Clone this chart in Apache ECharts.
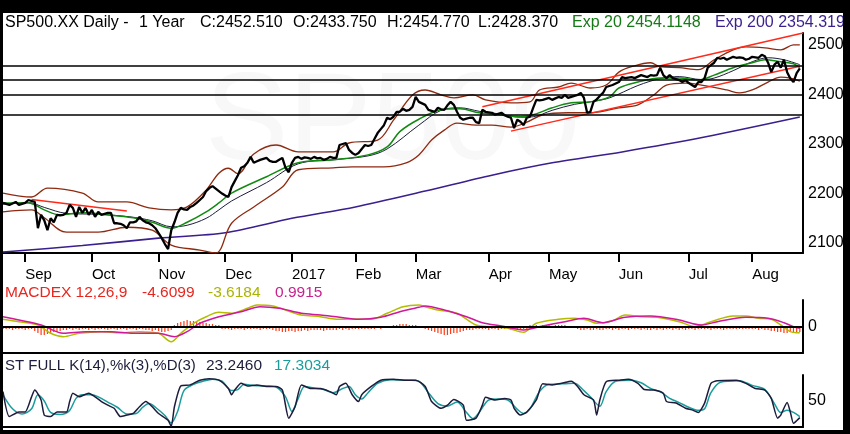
<!DOCTYPE html>
<html><head><meta charset="utf-8">
<script src="https://cdn.jsdelivr.net/npm/echarts@6/dist/echarts.min.js"></script>
<style>html,body{margin:0;padding:0;background:#000;}#c{width:850px;height:434px;}</style>
</head><body><div id="c"></div>
<script>
// ---- calendar (trading days) ----
const startYear = 2016, startMonth = 7, startDay = 23; // 23 Aug 2016
const dayCount = 253;
const holidays = ['2016-09-05','2016-11-24','2016-12-26','2017-01-02','2017-01-16','2017-02-20','2017-04-14','2017-05-29','2017-07-04'];
const monthLabels = ['2017','Feb','Mar','Apr','May','Jun','Jul','Aug','Sep','Oct','Nov','Dec'];

// ---- price (daily close) ----
const closeVals = [
2181,2179,2177,2180,2183,2177,2179,2181,2187,2185,2183,2130,2157,2146,2126,2150,2142,2157,2156,2157,
2161,2177,2171,2153,2173,2161,2171,2157,2167,2153,2163,2157,2159,2161,2161,2140,2140,2139,2136,2130,
2142,2142,2144,2153,2146,2142,2140,2136,2130,2120,2110,2098,2088,2126,2142,2161,2171,2168,2167,2173,
2176,2181,2187,2193,2205,2211,2215,2210,2205,2200,2196,2193,2213,2225,2237,2252,2255,2262,2274,2262,
2265,2268,2270,2272,2266,2264,2264,2268,2272,2252,2243,2262,2272,2274,2270,2273,2272,2270,2274,2271,
2272,2268,2270,2274,2272,2272,2298,2300,2302,2288,2282,2278,2282,2290,2298,2296,2298,2310,2322,2330,
2338,2353,2350,2355,2365,2365,2371,2367,2369,2375,2395,2385,2382,2379,2369,2367,2365,2373,2370,2369,
2378,2385,2379,2365,2353,2349,2351,2353,2353,2344,2342,2369,2365,2364,2363,2359,2361,2363,2358,2355,
2353,2332,2349,2345,2338,2353,2355,2373,2389,2388,2389,2391,2393,2389,2392,2395,2393,2399,2393,2395,
2397,2399,2403,2393,2363,2365,2385,2390,2397,2403,2415,2417,2419,2422,2425,2435,2433,2434,2435,2433,
2436,2439,2437,2435,2439,2438,2439,2454,2439,2433,2439,2433,2431,2429,2425,2429,2423,2419,2415,2425,
2425,2433,2454,2459,2464,2474,2472,2474,2470,2473,2476,2474,2475,2474,2470,2472,2476,2475,2474,2480,
2477,2464,2445,2460,2466,2454,2470,2445,2432,2425,2443,2452.51];

// ---- indicators ----
const emaDays = [0,8,13,18,25,33,41,47,53,58,64,68,72,83,93,104,115,121,125,131,138,144,150,156,163,167,173,179,185,191,194,200,207,213,219,224,230,236,240,245,249,251];
const emaVals = [2181,2181,2167,2157,2161,2157,2151,2142,2130,2142,2163,2181,2201,2234,2262,2268,2278,2294,2325,2350,2369,2371,2363,2359,2355,2359,2373,2383,2385,2395,2413,2425,2433,2433,2429,2439,2454,2464,2470,2466,2462,2454.11];
const smaDays = [0,8,13,20,30,40,47,53,58,64,68,72,83,93,104,115,121,131,138,144,150,156,163,167,173,180,185,191,200,207,213,220,224,230,236,241,246,251];
const smaVals = [2178,2182,2172,2160,2158,2153,2145,2133,2136,2150,2167,2185,2222,2260,2268,2276,2290,2338,2368,2373,2366,2361,2354,2355,2368,2380,2385,2393,2418,2432,2436,2430,2433,2448,2466,2474,2470,2460];
const upDays = [0,9,14,25,30,39,46,53,58,64,68,71,74,79,86,93,104,109,118,123,129,133,138,142,148,152,160,166,169,175,179,185,190,194,198,204,207,213,219,224,230,234,240,245,249,251];
const upVals = [2201,2193,2211,2201,2183,2183,2171,2167,2173,2207,2241,2251,2240,2280,2298,2284,2284,2302,2308,2348,2399,2409,2399,2393,2399,2389,2383,2385,2409,2415,2423,2413,2419,2445,2456,2464,2456,2454,2450,2470,2490,2496,2494,2490,2500,2500];
const loDays = [0,9,13,20,30,39,47,53,62,67,72,79,88,93,104,110,120,127,131,135,139,143,149,154,160,165,170,178,184,188,191,194,200,205,209,215,220,228,232,236,241,245,248,251];
const loVals = [2163,2167,2151,2122,2122,2132,2126,2096,2086,2080,2140,2173,2213,2248,2252,2254,2254,2262,2278,2308,2328,2342,2338,2338,2334,2344,2359,2363,2363,2365,2369,2373,2379,2399,2419,2423,2419,2409,2403,2409,2425,2435,2433,2427];
const e200Days = [0,25,49,70,91,111,133,154,173,195,221,251];
const e200Vals = [2082,2095,2110,2121,2150,2173,2205,2237,2262,2284,2314,2354.32];

// trend lines and horizontal levels
const trendA = {days:[9,39], vals:[2188,2165]};
const trendB = {days:[151,252], vals:[2375,2524]};
const trendC = {days:[160,251], vals:[2326,2457]};
const levels = [2458,2429,2400,2360];

// ---- MACD ----
const macdDays = [0,5,11,15,19,24,31,37,43,49,53,56,60,64,68,72,77,80,85,89,94,100,105,110,116,121,126,131,133,137,143,149,154,159,164,168,175,180,184,187,192,196,201,206,213,218,223,230,234,238,242,245,248,250,251];
const macdVals = [7.7,5.3,2,-6.3,-9.7,-6.3,-4.7,-5.7,-4.7,-6.3,-14.7,-6.3,3.7,10.3,14.7,13.7,18.7,22,21,17,12,10.3,7.7,8,7.7,13.7,20.3,22,20.3,17,13.7,2,0.3,-1.3,-5.3,3.7,7.7,8.7,7,3.7,6.3,12,10.3,9.7,5.3,0.3,5.3,11,11,8.7,7.7,2,-4.7,-5.7,-5.7];
const sigDays = [0,5,12,19,26,34,41,49,54,58,62,68,75,81,87,94,100,106,112,119,125,131,133,139,146,151,157,164,170,177,183,189,196,204,213,220,225,234,241,246,249,251];
const sigVals = [10.3,7,2,-6.3,-4.7,-4.7,-6.3,-6.3,-9.7,-4.7,3.7,10.3,15.3,20.3,18.7,13.7,12,9.7,7.7,9.7,15.3,19.7,21,17,10.3,4.3,1,-3,1,5.3,8.7,4.3,9.7,11,7,2,5.3,9.7,8.7,4.3,0.3,-1.3];
const histVals = [
-2,-2,-2,-3,-2,-2,-2,-3,-2,-2,
-4,-6,-8,-8,-7,-6,-5,-5,-4,-3,-3,
-2,-3,-2,-3,-2,-2,-3,-2,-3,-2,-2,-2,-3,-2,-2,-3,-2,-2,-3,-2,-2,-3,-2,-2,
-3,-3,-4,-3,-4,-5,-5,-4,-3,
2,4,5,6,7,6,6,5,5,4,4,3,3,2,2,
-2,-2,-2,-3,-2,-2,-2,-3,-2,-2,-2,-2,-3,-2,-2,-2,
-3,-4,-4,-5,-5,-4,-4,-5,-4,-4,-3,-4,-3,-3,-3,-3,-4,-3,-3,-3,-3,-2,-3,-2,-3,-2,
-2,-2,-2,-2,-2,-2,-2,-1,-2,-1,-1,-1,
2,2,3,3,3,2,2,2,1,1,
-2,-3,-4,-5,-6,-7,-8,-8,-7,-6,-6,-5,-4,-3,-3,-3,-2,-2,
-2,-2,-3,-2,-2,-3,-2,-2,-2,-3,-2,-2,-3,-2,-2,
2,2,2,1,2,2,2,1,2,2,2,2,1,1,1,
-2,-3,-3,-2,-3,-3,-2,-3,-3,-2,-2,-3,-2,-3,-2,-2,-3,-2,-2,
-2,-3,-2,-3,-3,-2,-3,-2,-3,-2,-2,-3,-2,-3,-2,-3,-2,-2,-3,-2,
-2,-2,-2,-3,-2,-2,-2,-3,-2,-2,-2,-2,-2,-2,-2,-2,
-2,-2,-3,-2,-3,-3,-4,-4,-5,-5,-6,-6,-5,-6,-6,-5];

// ---- Stochastic ----
const kDays = [0,2,5,7,9,10,12,13,15,17,20,21,22,24,27,29,31,33,35,37,39,41,43,45,47,49,52,53,54,56,59,62,65,68,71,72,73,75,77,80,83,86,88,90,92,94,97,100,103,105,106,108,110,112,113,116,119,123,127,130,133,135,138,140,142,145,146,149,151,152,155,158,160,161,163,165,168,170,173,176,179,181,183,186,187,188,190,194,197,200,202,205,208,209,212,215,217,219,221,223,225,231,234,237,240,242,244,245,247,248,249,250,251];
const kVals = [68,20,29,29,58,71,52,23,20,29,29,49,65,58,65,58,49,42,36,20,23,26,39,49,39,26,13,1,39,79,81,90,93,90,74,62,71,84,79,81,78,78,71,17,39,81,74,74,68,62,78,84,62,49,62,78,90,92,90,90,78,49,36,42,53,42,13,17,42,57,52,55,52,36,23,29,52,83,81,84,88,78,62,52,23,52,87,90,92,84,72,71,65,49,46,36,33,28,46,84,89,90,84,74,71,55,17,23,47,29,7,12,18];
const dDays = [0,3,6,9,11,13,15,18,21,23,25,28,30,33,36,39,42,44,46,48,51,53,55,57,60,63,66,69,72,74,76,79,83,86,89,91,93,95,98,101,104,107,109,111,113,115,118,122,128,131,134,137,140,143,146,148,150,153,156,159,162,164,166,169,172,176,180,183,185,188,190,193,198,201,204,207,210,213,216,219,221,223,226,232,236,240,243,245,247,249,251];
const dVals = [62,35,25,35,62,50,28,24,32,55,62,62,58,48,38,25,26,38,45,38,22,8,30,70,82,88,92,88,70,72,82,80,79,77,58,30,55,78,75,72,66,74,78,62,54,66,84,91,90,88,66,45,40,48,28,16,28,52,54,52,34,26,35,68,82,83,84,70,58,40,68,88,90,85,74,68,55,47,38,32,35,66,86,89,80,72,45,28,32,28,20];

// ---- build ----
const categories = [];
let t = Date.UTC(startYear, startMonth, startDay);
while (categories.length < dayCount) {
  const dt = new Date(t);
  const wd = dt.getUTCDay();
  const s = dt.toISOString().slice(0, 10);
  if (wd !== 0 && wd !== 6 && holidays.indexOf(s) < 0) categories.push(s);
  t += 86400000;
}
const monthStart = {};
for (let i = 1; i < categories.length; i++) {
  if (categories[i].slice(5, 7) !== categories[i - 1].slice(5, 7)) {
    monthStart[i] = monthLabels[+categories[i].slice(5, 7) - 1];
  }
}
const zip = (d, v) => d.map((x, i) => [x, v[i]]);
const FONT = '"Liberation Sans", Arial, sans-serif';

const BROWN = '#8e2a10', GREEN = '#128a12', DARK = '#1c1c3c', INDIGO = '#3b1f8e', RED = '#ff2a1a';
const YEL = '#b4bc00', MAG = '#d0189a', TEAL = '#1a9c9c';

function lineS(name, data, color, width, xi, yi, extra) {
  return Object.assign({
    name, type: 'line', data, xAxisIndex: xi, yAxisIndex: yi, showSymbol: false, symbol: 'none',
    lineStyle: { color, width }, itemStyle: { color }, silent: true, animation: false
  }, extra || {});
}

const chart = echarts.init(document.getElementById('c'), null, { renderer: 'canvas' });
const hiddenAxisParts = { axisTick: { show: false }, axisLabel: { show: false }, splitLine: { show: false } };

chart.setOption({
  backgroundColor: '#ffffff',
  animation: false,
  grid: [
    { left: 3, right: 47, top: 33, height: 220 },
    { left: 3, right: 47, top: 300, height: 53 },
    { left: 3, right: 47, top: 375, height: 52 }
  ],
  xAxis: [
    { type: 'category', gridIndex: 0, data: categories, boundaryGap: false,
      axisLine: { onZero: false, lineStyle: { color: '#000', width: 2 } },
      axisTick: { show: true, length: 9, lineStyle: { color: '#000', width: 2 }, interval: (i) => monthStart[i] !== undefined },
      axisLabel: { show: true, interval: (i) => monthStart[i] !== undefined, formatter: (v, i) => monthStart[i] || '',
        align: 'left', margin: 14, color: '#000', fontSize: 15, fontFamily: FONT },
      splitLine: { show: false } },
    Object.assign({ type: 'category', gridIndex: 1, data: categories, boundaryGap: false,
      axisLine: { onZero: false, lineStyle: { color: '#000', width: 2 } } }, hiddenAxisParts),
    Object.assign({ type: 'category', gridIndex: 2, data: categories, boundaryGap: false,
      axisLine: { onZero: false, lineStyle: { color: '#000', width: 2 } } }, hiddenAxisParts)
  ],
  yAxis: [
    { type: 'value', gridIndex: 0, position: 'right', min: 2080, max: 2524, interval: 20,
      axisLine: { show: true, lineStyle: { color: '#000', width: 2 } }, axisTick: { show: false }, splitLine: { show: false },
      axisLabel: { margin: 5, color: '#000', fontSize: 16, fontFamily: FONT, formatter: (v) => (v % 100 === 0 ? String(v) : '') } },
    { type: 'value', gridIndex: 1, position: 'right', min: -26, max: 27, interval: 26,
      axisLine: { show: true, lineStyle: { color: '#000', width: 2 } }, axisTick: { show: false }, splitLine: { show: false },
      axisLabel: { margin: 5, color: '#000', fontSize: 16, fontFamily: FONT, formatter: (v) => (v === 0 ? '0' : '') } },
    { type: 'value', gridIndex: 2, position: 'right', min: 0, max: 100, interval: 50,
      axisLine: { show: true, lineStyle: { color: '#000', width: 2 } }, axisTick: { show: false }, splitLine: { show: false },
      axisLabel: { margin: 5, color: '#000', fontSize: 16, fontFamily: FONT, formatter: (v) => (v === 50 ? '50' : '') } }
  ],
  graphic: [
    { type: 'text', left: 205, top: 62, z: 0, silent: true,
      style: { text: 'SP500', fill: '#f8f8f8', font: '125px ' + FONT } },
    { type: 'text', left: 5, top: 15, style: { text: 'SP500.XX Daily -', fill: '#000', font: '16px ' + FONT } },
    { type: 'text', left: 139, top: 15, style: { text: '1 Year', fill: '#000', font: '16px ' + FONT } },
    { type: 'text', left: 200, top: 15, style: { text: 'C:2452.510', fill: '#000', font: '16px ' + FONT } },
    { type: 'text', left: 293, top: 15, style: { text: 'O:2433.750', fill: '#000', font: '16px ' + FONT } },
    { type: 'text', left: 387, top: 15, style: { text: 'H:2454.770', fill: '#000', font: '16px ' + FONT } },
    { type: 'text', left: 478, top: 15, style: { text: 'L:2428.370', fill: '#000', font: '16px ' + FONT } },
    { type: 'text', left: 572, top: 15, style: { text: 'Exp 20 2454.1148', fill: '#157a15', font: '16px ' + FONT } },
    { type: 'text', left: 715, top: 15, style: { text: 'Exp 200 2354.319', fill: INDIGO, font: '16px ' + FONT } },
    { type: 'text', left: 5, top: 285, style: { text: 'MACDEX 12,26,9', fill: '#e8261e', font: '15.5px ' + FONT } },
    { type: 'text', left: 142, top: 285, style: { text: '-4.6099', fill: '#e8261e', font: '15.5px ' + FONT } },
    { type: 'text', left: 208, top: 285, style: { text: '-3.6184', fill: '#aab400', font: '15.5px ' + FONT } },
    { type: 'text', left: 275, top: 285, style: { text: '0.9915', fill: '#c8208f', font: '15.5px ' + FONT } },
    { type: 'text', left: 5, top: 358, style: { text: 'ST FULL K(14),%k(3),%D(3)', fill: DARK, font: '15px ' + FONT } },
    { type: 'text', left: 206, top: 358, style: { text: '23.2460', fill: DARK, font: '15.5px ' + FONT } },
    { type: 'text', left: 274, top: 358, style: { text: '17.3034', fill: TEAL, font: '15.5px ' + FONT } },
    { type: 'rect', left: 0, top: 0, z: 100, shape: { width: 850, height: 13 }, style: { fill: '#000' } },
    { type: 'rect', left: 0, top: 0, z: 100, shape: { width: 3, height: 434 }, style: { fill: '#000' } },
    { type: 'rect', left: 843, top: 0, z: 100, shape: { width: 7, height: 434 }, style: { fill: '#000' } },
    { type: 'rect', left: 0, top: 430, z: 100, shape: { width: 850, height: 4 }, style: { fill: '#000' } }
  ],
  series: [
    lineS('Levels', [], '#000', 1, 0, 0, {
      markLine: { silent: true, symbol: ['none', 'none'], label: { show: false },
        lineStyle: { color: '#000', width: 1.5, type: 'solid' }, data: levels.map(v => ({ yAxis: v })) } }),
    lineS('EMA200', zip(e200Days, e200Vals), INDIGO, 1.6, 0, 0, { smooth: 0.3 }),
    lineS('Upper band', zip(upDays, upVals), BROWN, 1.3, 0, 0, { smooth: 0.35 }),
    lineS('Lower band', zip(loDays, loVals), BROWN, 1.3, 0, 0, { smooth: 0.35 }),
    lineS('SMA20', zip(smaDays, smaVals), DARK, 1, 0, 0, { smooth: 0.35 }),
    lineS('EMA20', zip(emaDays, emaVals), GREEN, 1.5, 0, 0, { smooth: 0.35 }),
    lineS('Trend A', zip(trendA.days, trendA.vals), RED, 1.5, 0, 0),
    lineS('Trend B', zip(trendB.days, trendB.vals), RED, 1.5, 0, 0),
    lineS('Trend C', zip(trendC.days, trendC.vals), RED, 1.5, 0, 0),
    lineS('Close', closeVals, '#000', 2.3, 0, 0, { z: 5 }),
    { name: 'Hist', type: 'bar', xAxisIndex: 1, yAxisIndex: 1, data: histVals, barWidth: 1.2,
      itemStyle: { color: '#ff3a14' }, silent: true, animation: false,
      markLine: { silent: true, symbol: ['none', 'none'], label: { show: false },
        lineStyle: { color: '#000', width: 2, type: 'solid' }, data: [{ yAxis: 0 }] } },
    lineS('MACD', zip(macdDays, macdVals), YEL, 1.5, 1, 1, { smooth: 0.3 }),
    lineS('Signal', zip(sigDays, sigVals), MAG, 1.5, 1, 1, { smooth: 0.3 }),
    lineS('%D', zip(dDays, dVals), TEAL, 1.5, 2, 2, { smooth: 0.3 }),
    lineS('%K', zip(kDays, kVals), DARK, 1.5, 2, 2, { smooth: 0.2 })
  ]
});
</script>
</body></html>
